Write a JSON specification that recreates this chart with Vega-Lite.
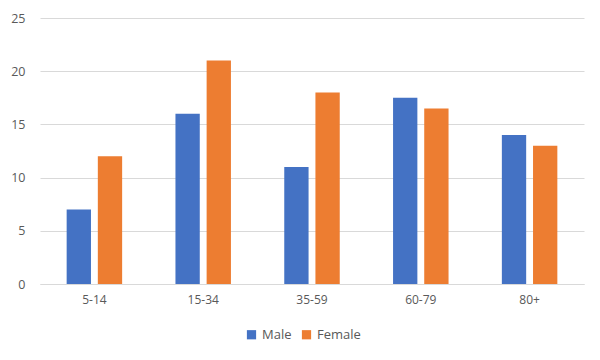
{
  "$schema": "https://vega.github.io/schema/vega-lite/v6.json",
  "width": 544,
  "height": 266,
  "autosize": {"type": "none"},
  "padding": {"left": 40, "top": 18, "right": 16, "bottom": 76},
  "background": "white",
  "data": {
    "values": [
      {"age": "5-14", "sex": "Male", "value": 7},
      {"age": "5-14", "sex": "Female", "value": 12},
      {"age": "15-34", "sex": "Male", "value": 16},
      {"age": "15-34", "sex": "Female", "value": 21},
      {"age": "35-59", "sex": "Male", "value": 11},
      {"age": "35-59", "sex": "Female", "value": 18},
      {"age": "60-79", "sex": "Male", "value": 17.5},
      {"age": "60-79", "sex": "Female", "value": 16.5},
      {"age": "80+", "sex": "Male", "value": 14},
      {"age": "80+", "sex": "Female", "value": 13}
    ]
  },
  "mark": {"type": "bar"},
  "encoding": {
    "x": {
      "field": "age", "type": "nominal", "sort": null,
      "scale": {"paddingInner": 0.49, "paddingOuter": 0.245},
      "axis": {"title": null, "labelAngle": 0, "ticks": false, "domainColor": "#d9d9d9", "labelPadding": 10, "labelFont": "Open Sans", "labelFontSize": 12, "labelColor": "#595959", "grid": false}
    },
    "xOffset": {
      "field": "sex", "type": "nominal", "sort": ["Male", "Female"],
      "scale": {"paddingInner": 0.22, "paddingOuter": 0}
    },
    "y": {
      "field": "value", "type": "quantitative",
      "scale": {"domain": [0, 25]},
      "axis": {"title": null, "values": [0, 5, 10, 15, 20, 25], "domain": false, "ticks": false, "gridColor": "#d9d9d9", "labelPadding": 15, "labelFont": "Open Sans", "labelFontSize": 12.5, "labelColor": "#595959"}
    },
    "color": {
      "field": "sex", "type": "nominal", "sort": ["Male", "Female"],
      "scale": {"domain": ["Male", "Female"], "range": ["#4472C4", "#ED7D31"]},
      "legend": {"title": null, "orient": "none", "legendX": 205, "legendY": 310, "direction": "horizontal", "symbolType": "square", "symbolSize": 85, "labelFont": "Open Sans", "labelFontSize": 13, "labelColor": "#595959", "columnPadding": 8, "labelOffset": 4, "symbolOpacity": 1}
    }
  },
  "config": {"view": {"stroke": null}}
}
